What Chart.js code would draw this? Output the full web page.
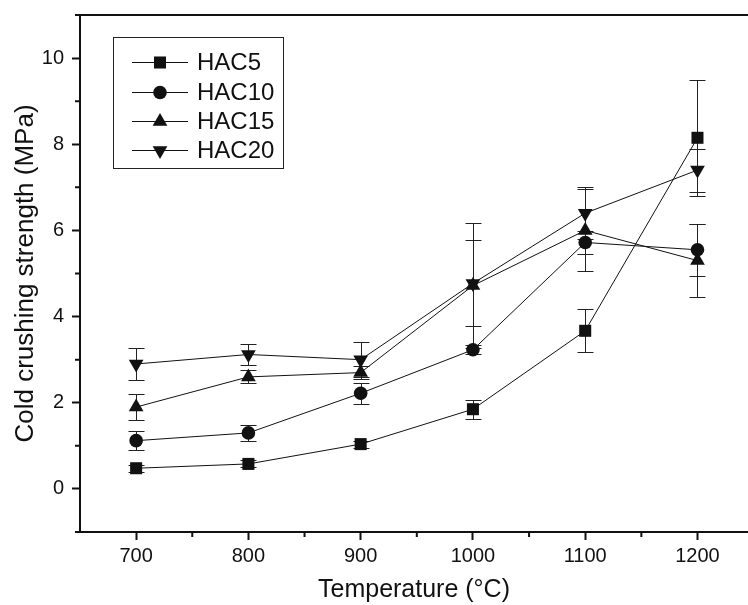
<!DOCTYPE html>
<html>
<head>
<meta charset="utf-8">
<script src="https://cdn.jsdelivr.net/npm/chart.js@4.4.1/dist/chart.umd.min.js"></script>
<style>
  html, body { margin: 0; padding: 0; background: #fff; }
  #wrap { width: 748px; height: 605px; position: relative; }
</style>
</head>
<body>
<div id="wrap"><canvas id="ccs"></canvas></div>
<script>
// firing temperature (°C)
const temps = [700, 800, 900, 1000, 1100, 1200];

// cold crushing strength (MPa) and standard deviation per mix
const hac5 = [0.48, 0.58, 1.04, 1.85, 3.67, 8.15];
const hac5Err = [0.08, 0.08, 0.08, 0.22, 0.5, 1.35];
const hac10 = [1.12, 1.3, 2.22, 3.23, 5.72, 5.55];
const hac10Err = [0.22, 0.18, 0.25, 0.1, 0.27, 0.6];
const hac15 = [1.9, 2.6, 2.7, 4.72, 6.0, 5.3];
const hac15Err = [0.3, 0.15, 0.15, 1.45, 0.95, 0.85];
const hac20 = [2.9, 3.12, 3.0, 4.77, 6.4, 7.4];
const hac20Err = [0.38, 0.25, 0.4, 1.0, 0.6, 0.5];

const seriesNames = ['HAC5', 'HAC10', 'HAC15', 'HAC20'];
const seriesValues = [hac5, hac10, hac15, hac20];
const seriesErrors = [hac5Err, hac10Err, hac15Err, hac20Err];
const markers = [
  {style: 'rect', radius: 8.5, rotation: 0},
  {style: 'circle', radius: 6.8, rotation: 0},
  {style: 'triangle', radius: 8.5, rotation: 0},
  {style: 'triangle', radius: 8.5, rotation: 180}
];

const yTicks = [0, 2, 4, 6, 8, 10];
const xTicks = [700, 800, 900, 1000, 1100, 1200];

const INK = '#111';
const FONT = "'Liberation Sans', Arial, sans-serif";

const datasets = seriesNames.map(function(name, i) {
  return {
    label: name,
    data: temps.map(function(t, k) { return {x: t, y: seriesValues[i][k]}; }),
    errors: seriesErrors[i],
    borderColor: INK,
    borderWidth: 1,
    backgroundColor: INK,
    pointStyle: markers[i].style,
    pointRadius: markers[i].radius,
    pointRotation: markers[i].rotation,
    pointBackgroundColor: INK,
    pointBorderColor: INK,
    pointBorderWidth: 0,
    tension: 0
  };
});

// vertical error bars with caps, drawn under the markers
const errorBars = {
  id: 'errorBars',
  beforeDatasetsDraw: function(chart) {
    const ctx = chart.ctx;
    const xs = chart.scales.x, ys = chart.scales.y;
    ctx.save();
    ctx.strokeStyle = '#222';
    ctx.lineWidth = 1;
    chart.data.datasets.forEach(function(ds) {
      ds.data.forEach(function(p, k) {
        const e = ds.errors[k];
        const px = Math.round(xs.getPixelForValue(p.x)) + 0.5;
        const top = Math.round(ys.getPixelForValue(p.y + e)) + 0.5;
        const bot = Math.round(ys.getPixelForValue(p.y - e)) + 0.5;
        ctx.beginPath();
        ctx.moveTo(px, top); ctx.lineTo(px, bot);
        ctx.moveTo(px - 8, top); ctx.lineTo(px + 8, top);
        ctx.moveTo(px - 8, bot); ctx.lineTo(px + 8, bot);
        ctx.stroke();
      });
    });
    ctx.restore();
  }
};

// top frame line, minor ticks and the boxed legend
const frame = {
  id: 'frame',
  afterDraw: function(chart) {
    const ctx = chart.ctx;
    const a = chart.chartArea;
    const xs = chart.scales.x, ys = chart.scales.y;
    ctx.save();
    ctx.strokeStyle = INK;
    ctx.lineWidth = 2;
    ctx.beginPath();
    ctx.moveTo(a.left - 1, a.top);
    ctx.lineTo(chart.width, a.top);
    ctx.stroke();

    // minor ticks
    ctx.beginPath();
    for (let v = 750; v < 1245; v += 100) {
      const px = xs.getPixelForValue(v);
      ctx.moveTo(px, a.bottom); ctx.lineTo(px, a.bottom + 5);
    }
    for (let v = -1; v <= 11; v += 2) {
      const py = ys.getPixelForValue(v);
      ctx.moveTo(a.left, py); ctx.lineTo(a.left - 5, py);
    }
    ctx.stroke();

    // legend
    const bx = 113, by = 37, bw = 170, bh = 131;
    ctx.lineWidth = 1;
    ctx.strokeStyle = '#222';
    ctx.strokeRect(bx + 0.5, by + 0.5, bw, bh);
    const rows = [62, 92, 121, 150];
    ctx.font = '24px ' + FONT;
    ctx.textBaseline = 'middle';
    ctx.textAlign = 'left';
    chart.data.datasets.forEach(function(ds, i) {
      const y = rows[i];
      ctx.strokeStyle = INK;
      ctx.lineWidth = 1;
      ctx.beginPath();
      ctx.moveTo(132, y + 0.5); ctx.lineTo(188, y + 0.5);
      ctx.stroke();
      ctx.fillStyle = INK;
      Chart.helpers.drawPoint(ctx, {
        pointStyle: ds.pointStyle,
        radius: ds.pointRadius,
        rotation: ds.pointRotation,
        borderWidth: 0
      }, 160, y + 0.5);
      ctx.fillText(ds.label, 197, y + 1);
    });
    ctx.restore();
  }
};

new Chart(document.getElementById('ccs'), {
  type: 'line',
  data: {datasets: datasets},
  plugins: [errorBars, frame],
  options: {
    responsive: true,
    maintainAspectRatio: false,
    animation: false,
    events: [],
    layout: {autoPadding: false, padding: {top: 15, right: 0, left: 0, bottom: 0}},
    plugins: {
      legend: {display: false},
      tooltip: {enabled: false}
    },
    scales: {
      x: {
        type: 'linear',
        min: 650,
        max: 1245,
        afterBuildTicks: function(scale) {
          scale.ticks = xTicks.map(function(v) { return {value: v}; });
        },
        afterFit: function(scale) {
          scale.height = 73;
          scale.paddingLeft = 0;
          scale.paddingRight = 0;
        },
        border: {display: true, color: INK, width: 2},
        grid: {drawOnChartArea: false, drawTicks: true, tickLength: 8, tickColor: INK, tickWidth: 2},
        ticks: {
          color: INK,
          padding: 4,
          font: {family: FONT, size: 20},
          callback: function(v) { return String(v); }
        },
        title: {
          display: true,
          text: 'Temperature (°C)',
          color: INK,
          padding: {top: 0, bottom: 0},
          font: {family: FONT, size: 25}
        }
      },
      y: {
        min: -1,
        max: 11,
        afterBuildTicks: function(scale) {
          scale.ticks = yTicks.map(function(v) { return {value: v}; });
        },
        afterFit: function(scale) {
          scale.width = 80;
          scale.paddingTop = 0;
          scale.paddingBottom = 0;
        },
        border: {display: true, color: INK, width: 2},
        grid: {drawOnChartArea: false, drawTicks: true, tickLength: 8, tickColor: INK, tickWidth: 2},
        ticks: {
          color: INK,
          padding: 8,
          font: {family: FONT, size: 20},
          callback: function(v) { return String(v); }
        },
        title: {
          display: true,
          text: 'Cold crushing strength (MPa)',
          color: INK,
          padding: {top: 10, bottom: 4},
          font: {family: FONT, size: 26}
        }
      }
    }
  }
});
</script>
</body>
</html>
